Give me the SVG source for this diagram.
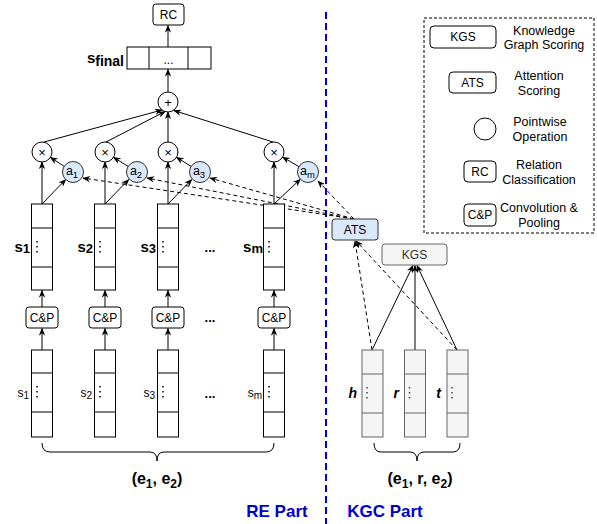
<svg xmlns="http://www.w3.org/2000/svg" width="597" height="524" viewBox="0 0 597 524">
<style>
text{font-family:"Liberation Sans",Arial,sans-serif;fill:#000}
.t12{font-size:12px}
.t11{font-size:12.5px}
.b{font-weight:bold}
.box{fill:#fff;stroke:#000;stroke-width:1}
.op{fill:#fff;stroke:#000;stroke-width:1}
.att{fill:#dae8fc;stroke:#333;stroke-width:1}
.kg{fill:#f5f5f5;stroke:#666;stroke-width:1}
.ln{fill:none;stroke:#000;stroke-width:1;marker-end:url(#arr)}
.dl{fill:none;stroke:#000;stroke-width:1;stroke-dasharray:4 3;marker-end:url(#arr)}
.dt{stroke:#000;stroke-width:1.5;stroke-dasharray:1.5 3.5}
.blue{fill:#0000cc;font-weight:bold;font-size:17px}
</style>
<defs>
<marker id="arr" viewBox="0 0 10 8" refX="9" refY="4" markerWidth="8" markerHeight="6.4" markerUnits="userSpaceOnUse" orient="auto">
<path d="M0,0 L10,4 L0,8 L3,4 z" fill="#000"/>
</marker>
</defs>

<!-- separator -->
<line x1="326" y1="12" x2="326" y2="524" stroke="#0000dd" stroke-width="2" stroke-dasharray="7 4"/>

<g id="connectors">
<line class="ln" x1="168" y1="47" x2="168" y2="25.5"/>
<line class="ln" x1="168" y1="92" x2="168" y2="69.5"/>
<line class="ln" x1="44" y1="142" x2="162" y2="110"/>
<line class="ln" x1="106" y1="142" x2="165" y2="111.5"/>
<line class="ln" x1="168" y1="142" x2="168" y2="112"/>
<line class="ln" x1="273" y1="142" x2="174" y2="110.5"/>
<line class="ln" x1="64.2" y1="166.3" x2="50.4" y2="157.4"/>
<line class="ln" x1="128.1" y1="166.4" x2="113.5" y2="157.3"/>
<line class="ln" x1="191.1" y1="166.4" x2="176.5" y2="157.3"/>
<line class="ln" x1="299" y1="166.7" x2="282.6" y2="157.1"/>
<line class="ln" x1="42" y1="204" x2="65.7" y2="179.5"/>
<line class="ln" x1="105" y1="204" x2="128.7" y2="179.5"/>
<line class="ln" x1="168" y1="204" x2="191.7" y2="179.5"/>
<line class="ln" x1="274" y1="204" x2="300.4" y2="179.2"/>
<line class="ln" x1="42" y1="204" x2="42" y2="162"/>
<line class="ln" x1="105" y1="204" x2="105" y2="162"/>
<line class="ln" x1="168" y1="204" x2="168" y2="162"/>
<line class="ln" x1="274" y1="204" x2="274" y2="162"/>
<line class="ln" x1="42" y1="307" x2="42" y2="290.5"/>
<line class="ln" x1="105" y1="307" x2="105" y2="290.5"/>
<line class="ln" x1="168" y1="307" x2="168" y2="290.5"/>
<line class="ln" x1="274" y1="307" x2="274" y2="290.5"/>
<line class="ln" x1="42" y1="350" x2="42" y2="328.5"/>
<line class="ln" x1="105" y1="350" x2="105" y2="328.5"/>
<line class="ln" x1="168" y1="350" x2="168" y2="328.5"/>
<line class="ln" x1="274" y1="350" x2="274" y2="328.5"/>
<line class="dl" x1="354" y1="219" x2="83" y2="178"/>
<line class="dl" x1="354" y1="219" x2="147" y2="178"/>
<line class="dl" x1="354" y1="219" x2="210" y2="178"/>
<line class="dl" x1="354" y1="219" x2="318" y2="181"/>
<line class="dl" x1="372" y1="350" x2="355" y2="241"/>
<line class="dl" x1="457" y1="350" x2="356" y2="241"/>
<line class="ln" x1="372" y1="350" x2="413" y2="265.5"/>
<line class="ln" x1="415" y1="350" x2="415" y2="265.5"/>
<line class="ln" x1="457" y1="350" x2="417" y2="265.5"/>
</g>

<g id="rc">
<rect class="box" x="153" y="4" width="31" height="21" rx="3"/>
<text class="t12" x="168.5" y="19" text-anchor="middle">RC</text>
</g>

<g id="sfinal">
<rect class="box" x="127" y="47" width="84" height="22"/>
<line x1="149" y1="47" x2="149" y2="69" stroke="#000"/>
<line x1="188" y1="47" x2="188" y2="69" stroke="#000"/>
<text class="t12" x="168.5" y="64" text-anchor="middle">...</text>
<text class="b" x="124" y="63" text-anchor="end"><tspan font-size="15">s</tspan><tspan font-size="14" dy="3">final</tspan></text>
</g>

<g id="plus">
<circle class="op" cx="168" cy="102" r="10"/>
<text x="168" y="106.5" font-size="13" text-anchor="middle">+</text>
</g>

<g id="mul1"><circle class="op" cx="42" cy="152" r="10"/><text x="42" y="156.5" font-size="13" text-anchor="middle">×</text></g>
<g id="mul2"><circle class="op" cx="105" cy="152" r="10"/><text x="105" y="156.5" font-size="13" text-anchor="middle">×</text></g>
<g id="mul3"><circle class="op" cx="168" cy="152" r="10"/><text x="168" y="156.5" font-size="13" text-anchor="middle">×</text></g>
<g id="mul4"><circle class="op" cx="274" cy="152" r="10"/><text x="274" y="156.5" font-size="13" text-anchor="middle">×</text></g>

<g id="a1"><circle class="att" cx="73" cy="172" r="10.5"/><text x="72" y="175" font-size="12.5" text-anchor="middle">a<tspan font-size="9.5" dy="3">1</tspan></text></g>
<g id="a2"><circle class="att" cx="137" cy="172" r="10.5"/><text x="136" y="175" font-size="12.5" text-anchor="middle">a<tspan font-size="9.5" dy="3">2</tspan></text></g>
<g id="a3"><circle class="att" cx="200" cy="172" r="10.5"/><text x="199" y="175" font-size="12.5" text-anchor="middle">a<tspan font-size="9.5" dy="3">3</tspan></text></g>
<g id="am"><circle class="att" cx="308" cy="172" r="10.5"/><text x="307.5" y="175" font-size="12.5" text-anchor="middle">a<tspan font-size="9.5" dy="3">m</tspan></text></g>

<!-- upper sentence vectors -->
<g id="s1">
<rect class="box" x="31.5" y="204" width="21" height="86"/>
<line x1="31.5" y1="228" x2="52.5" y2="228" stroke="#000"/><line x1="31.5" y1="267" x2="52.5" y2="267" stroke="#000"/>
<line class="dt" x1="37" y1="241" x2="37" y2="254"/>
<text class="b" x="30" y="252" text-anchor="end"><tspan font-size="15">s</tspan><tspan font-size="13" dy="1">1</tspan></text>
</g>
<g id="s2">
<rect class="box" x="94.5" y="204" width="21" height="86"/>
<line x1="94.5" y1="228" x2="115.5" y2="228" stroke="#000"/><line x1="94.5" y1="267" x2="115.5" y2="267" stroke="#000"/>
<line class="dt" x1="100" y1="241" x2="100" y2="254"/>
<text class="b" x="93" y="252" text-anchor="end"><tspan font-size="15">s</tspan><tspan font-size="13" dy="1">2</tspan></text>
</g>
<g id="s3">
<rect class="box" x="157.5" y="204" width="21" height="86"/>
<line x1="157.5" y1="228" x2="178.5" y2="228" stroke="#000"/><line x1="157.5" y1="267" x2="178.5" y2="267" stroke="#000"/>
<line class="dt" x1="163" y1="241" x2="163" y2="254"/>
<text class="b" x="156" y="252" text-anchor="end"><tspan font-size="15">s</tspan><tspan font-size="13" dy="1">3</tspan></text>
</g>
<g id="sm">
<rect class="box" x="263.5" y="204" width="21" height="86"/>
<line x1="263.5" y1="228" x2="284.5" y2="228" stroke="#000"/><line x1="263.5" y1="267" x2="284.5" y2="267" stroke="#000"/>
<line class="dt" x1="269" y1="241" x2="269" y2="254"/>
<text class="b" x="263" y="252" text-anchor="end"><tspan font-size="15">s</tspan><tspan font-size="13" dy="1">m</tspan></text>
</g>
<text class="b" x="210" y="252" font-size="13" text-anchor="middle">...</text>

<!-- conv & pooling -->
<g id="cp1"><rect class="box" x="26" y="307" width="32" height="21" rx="3"/><text class="t12" x="42" y="322" text-anchor="middle">C&amp;P</text></g>
<g id="cp2"><rect class="box" x="89" y="307" width="32" height="21" rx="3"/><text class="t12" x="105" y="322" text-anchor="middle">C&amp;P</text></g>
<g id="cp3"><rect class="box" x="152" y="307" width="32" height="21" rx="3"/><text class="t12" x="168" y="322" text-anchor="middle">C&amp;P</text></g>
<g id="cpm"><rect class="box" x="258" y="307" width="32" height="21" rx="3"/><text class="t12" x="274" y="322" text-anchor="middle">C&amp;P</text></g>
<text class="b" x="210" y="322" font-size="13" text-anchor="middle">...</text>

<!-- lower sentence inputs -->
<g id="in1">
<rect class="box" x="31.5" y="350" width="21" height="87"/>
<line x1="31.5" y1="373" x2="52.5" y2="373" stroke="#000"/><line x1="31.5" y1="412" x2="52.5" y2="412" stroke="#000"/>
<line class="dt" x1="37" y1="386" x2="37" y2="399"/>
<text x="29" y="397" text-anchor="end"><tspan font-size="12">s</tspan><tspan font-size="10" dy="2">1</tspan></text>
</g>
<g id="in2">
<rect class="box" x="94.5" y="350" width="21" height="87"/>
<line x1="94.5" y1="373" x2="115.5" y2="373" stroke="#000"/><line x1="94.5" y1="412" x2="115.5" y2="412" stroke="#000"/>
<line class="dt" x1="100" y1="386" x2="100" y2="399"/>
<text x="92" y="397" text-anchor="end"><tspan font-size="12">s</tspan><tspan font-size="10" dy="2">2</tspan></text>
</g>
<g id="in3">
<rect class="box" x="157.5" y="350" width="21" height="87"/>
<line x1="157.5" y1="373" x2="178.5" y2="373" stroke="#000"/><line x1="157.5" y1="412" x2="178.5" y2="412" stroke="#000"/>
<line class="dt" x1="163" y1="386" x2="163" y2="399"/>
<text x="155" y="397" text-anchor="end"><tspan font-size="12">s</tspan><tspan font-size="10" dy="2">3</tspan></text>
</g>
<g id="inm">
<rect class="box" x="263.5" y="350" width="21" height="87"/>
<line x1="263.5" y1="373" x2="284.5" y2="373" stroke="#000"/><line x1="263.5" y1="412" x2="284.5" y2="412" stroke="#000"/>
<line class="dt" x1="269" y1="386" x2="269" y2="399"/>
<text x="262" y="397" text-anchor="end"><tspan font-size="12">s</tspan><tspan font-size="10" dy="2">m</tspan></text>
</g>
<text class="b" x="210" y="398" font-size="13" text-anchor="middle">...</text>

<g id="brace-re">
<path d="M42,443 Q42,452 50,452 L150,452 Q157,452 157,461 Q157,452 164,452 L266,452 Q274,452 274,443" fill="none" stroke="#000"/>
<text class="b" x="157" y="484" font-size="16" text-anchor="middle">(e<tspan font-size="12" dy="4">1</tspan><tspan dy="-4">, e</tspan><tspan font-size="12" dy="4">2</tspan><tspan dy="-4">)</tspan></text>
</g>
<text class="blue" x="277" y="517" text-anchor="middle">RE Part</text>

<!-- KGC part -->
<g id="ats">
<rect class="att" x="332" y="219" width="46" height="21" rx="3"/>
<text class="t12" x="355" y="234" text-anchor="middle">ATS</text>
</g>
<g id="kgs">
<rect class="kg" x="382" y="244" width="65" height="21" rx="3"/>
<text class="t12" x="414.5" y="259" text-anchor="middle" style="fill:#333">KGS</text>
</g>
<g id="h">
<rect class="kg" x="362" y="350" width="21" height="87"/>
<line x1="362" y1="374" x2="383" y2="374" stroke="#666"/><line x1="362" y1="413" x2="383" y2="413" stroke="#666"/>
<line class="dt" x1="367" y1="387" x2="367" y2="400" style="stroke:#444"/>
<text x="357" y="398" font-size="14" font-weight="bold" font-style="italic" text-anchor="end">h</text>
</g>
<g id="r">
<rect class="kg" x="404.5" y="350" width="21" height="87"/>
<line x1="404.5" y1="374" x2="425.5" y2="374" stroke="#666"/><line x1="404.5" y1="413" x2="425.5" y2="413" stroke="#666"/>
<line class="dt" x1="409.5" y1="387" x2="409.5" y2="400" style="stroke:#444"/>
<text x="399" y="398" font-size="14" font-weight="bold" font-style="italic" text-anchor="end">r</text>
</g>
<g id="t">
<rect class="kg" x="447" y="350" width="21" height="87"/>
<line x1="447" y1="374" x2="468" y2="374" stroke="#666"/><line x1="447" y1="413" x2="468" y2="413" stroke="#666"/>
<line class="dt" x1="452" y1="387" x2="452" y2="400" style="stroke:#444"/>
<text x="441" y="398" font-size="14" font-weight="bold" font-style="italic" text-anchor="end">t</text>
</g>
<g id="brace-kgc">
<path d="M374,443 Q374,452 381,452 L410,452 Q417,452 417,461 Q417,452 424,452 L453,452 Q460,452 460,443" fill="none" stroke="#000"/>
<text class="b" x="420" y="484" font-size="16" text-anchor="middle">(e<tspan font-size="12" dy="4">1</tspan><tspan dy="-4">, r, e</tspan><tspan font-size="12" dy="4">2</tspan><tspan dy="-4">)</tspan></text>
</g>
<text class="blue" x="385" y="517" text-anchor="middle">KGC Part</text>

<!-- legend -->
<g id="legend">
<rect x="424" y="18" width="170" height="215" fill="none" stroke="#000" stroke-dasharray="3 2"/>
<rect class="box" x="430" y="26" width="66" height="22" rx="4"/>
<text class="t12" x="463" y="41" text-anchor="middle">KGS</text>
<text class="t11" x="544" y="35" text-anchor="middle">Knowledge</text>
<text class="t11" x="544" y="49" text-anchor="middle">Graph  Scoring</text>
<rect class="box" x="449" y="72" width="47" height="21" rx="4"/>
<text class="t12" x="472.5" y="87" text-anchor="middle">ATS</text>
<text class="t11" x="539" y="80" text-anchor="middle">Attention</text>
<text class="t11" x="539" y="95" text-anchor="middle">Scoring</text>
<circle class="op" cx="485" cy="129" r="11"/>
<text class="t11" x="540" y="126" text-anchor="middle">Pointwise</text>
<text class="t11" x="540" y="141" text-anchor="middle">Operation</text>
<rect class="box" x="464" y="161" width="32" height="21" rx="4"/>
<text class="t12" x="480" y="176" text-anchor="middle">RC</text>
<text class="t11" x="539" y="169" text-anchor="middle">Relation</text>
<text class="t11" x="539" y="184" text-anchor="middle">Classification</text>
<rect class="box" x="464" y="204" width="32" height="22" rx="4"/>
<text class="t12" x="480" y="219" text-anchor="middle">C&amp;P</text>
<text class="t11" x="539" y="212" text-anchor="middle">Convolution &amp;</text>
<text class="t11" x="539" y="227" text-anchor="middle">Pooling</text>
</g>
</svg>
